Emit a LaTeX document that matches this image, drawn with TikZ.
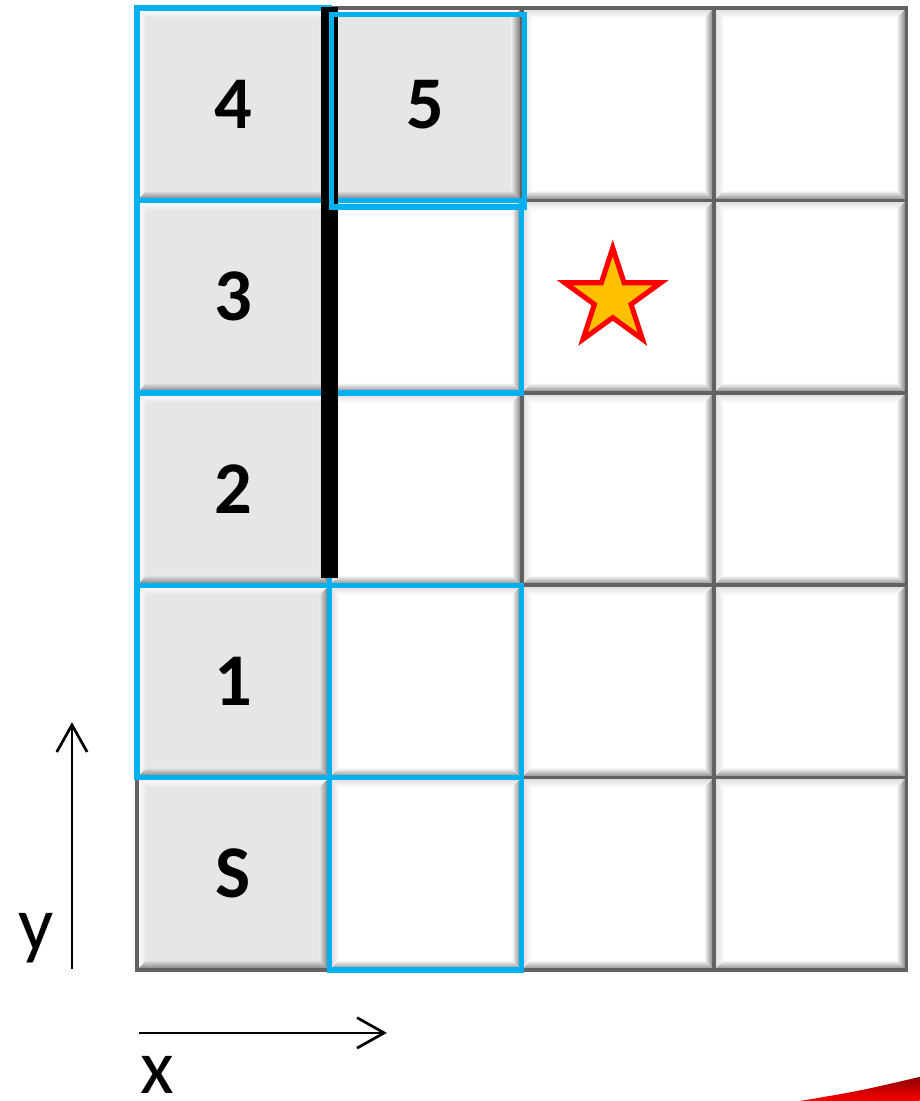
\documentclass[tikz,border=0pt]{standalone}
\usepackage{fontspec}
\setmainfont{Carlito}
\usepackage{tikz}
\usetikzlibrary{shapes.geometric,arrows.meta}
\definecolor{seen}{HTML}{00B0F0}
\definecolor{tilegray}{HTML}{E6E6E6}
\definecolor{goldstar}{HTML}{FFC000}
\definecolor{gridedge}{HTML}{626262}

% bevelled tile: column, row, face colour, light edge colour
\newcommand{\bevtile}[4]{%
  \fill[#3] (#1,#2) rectangle ++(1,1);
  \shade[top color=#4, bottom color=#3] (#1,#2+1) -- (#1+1,#2+1) -- (#1+0.948,#2+0.948) -- (#1+0.052,#2+0.948) -- cycle;
  \shade[left color=#4, right color=#3] (#1,#2) -- (#1,#2+1) -- (#1+0.052,#2+0.948) -- (#1+0.052,#2+0.052) -- cycle;
  \shade[left color=#3, right color=#3!45!black] (#1+1,#2) -- (#1+1,#2+1) -- (#1+0.948,#2+0.948) -- (#1+0.948,#2+0.052) -- cycle;
  \shade[top color=#3, bottom color=#3!50!black] (#1,#2) -- (#1+1,#2) -- (#1+0.948,#2+0.052) -- (#1+0.052,#2+0.052) -- cycle;
  \draw[gridedge, line width=1.1pt] (#1,#2) rectangle ++(1,1);
}

\begin{document}
\begin{tikzpicture}[x=2cm, y=2cm,
    cellnum/.style={font=\fontsize{22}{26}\selectfont\bfseries, inner sep=0pt},
    axislbl/.style={font=\fontsize{23}{27}\selectfont, inner sep=0pt},
    frontier/.style={draw=seen, line width=1.6pt},
    axis/.style={line width=0.8pt, -{Straight Barb[length=8pt, width=9pt]}},
    goal/.style={star, star points=5, star point ratio=2.618, minimum size=1.05cm,
        inner sep=0pt, fill=goldstar, draw=red, line width=1.5pt}]
    \useasboundingbox (-0.712,-0.681) rectangle (4.068,5.042);

    % Draw tiles
    \foreach \c in {1,2,3}
        \foreach \r in {0,...,4}
            {\bevtile{\c}{\r}{white}{white!85!black}}
    \foreach \r in {0,...,4}
        {\bevtile{0}{\r}{tilegray}{white}}
    \bevtile{1}{4}{tilegray}{white}

    % Blue outlines
    \foreach \c/\r in {0/1,0/2,0/3,0/4,1/0,1/1,1/3}
        \draw[frontier] (\c,\r) rectangle ++(1,1);

    % Wall
    \draw[line width=5pt] (1,2.036) -- (1,5.005);
    \draw[frontier] (1.012,3.966) rectangle (2.013,4.966);

    % Labels
    \foreach \r/\t in {0/S,1/1,2/2,3/3,4/4}
        \node[cellnum] (lbl-\t) at (0.5,\r+0.5) {\t};
    \node[cellnum] (lbl-5) at (1.5,4.5) {5};

    % Goal
    \node[goal] (goal) at (2.473,3.491) {};

    % Axes
    \coordinate (yfoot) at (-0.338,0.005);
    \coordinate (yhead) at (-0.338,1.288);
    \coordinate (xfoot) at (0.01,-0.327);
    \coordinate (xhead) at (1.299,-0.327);
    \draw[axis] (yfoot) -- (yhead);
    \draw[axis] (xfoot) -- (xhead);
    \node[axislbl, anchor=base] (ylbl) at (-0.525,0.099) {y};
    \node[axislbl, anchor=base] (xlbl) at (0.104,-0.64) {x};

    % Corner
    \shade[top color=red!55!black, bottom color=red] (3.444,-0.681) .. controls (3.75,-0.63) .. (4.068,-0.556) -- (4.068,-0.681) -- cycle;
\end{tikzpicture}
\end{document}
